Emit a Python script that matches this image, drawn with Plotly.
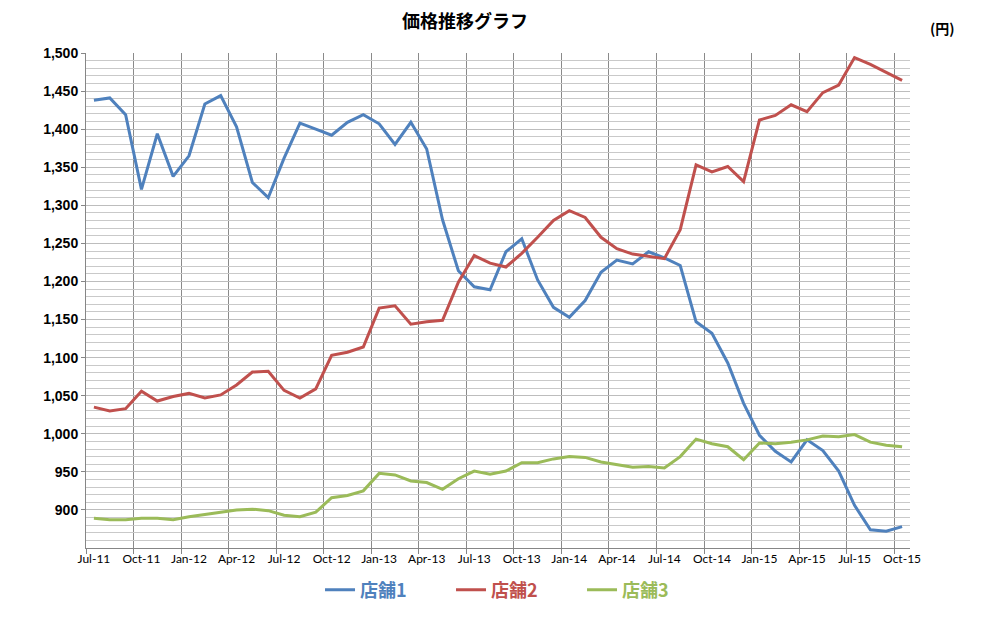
import pandas as pd
import plotly.graph_objects as go

# monthly categories Jul-11 .. Oct-15
months = pd.date_range("2011-07-01", "2015-10-01", freq="MS")
month_labels = [d.strftime("%b-%y") for d in months]

store1 = [1438, 1441, 1419, 1321, 1394, 1338, 1365, 1433, 1444, 1403,
          1330, 1310, 1362, 1408, 1400, 1392, 1409, 1419, 1407, 1380,
          1409, 1374, 1281, 1214, 1193, 1189, 1239, 1256, 1202, 1166,
          1153, 1175, 1212, 1228, 1223, 1239, 1231, 1221, 1147, 1132,
          1093, 1040, 998, 977, 963, 992, 978, 951, 906, 874,
          872, 878]
store2 = [1035, 1030, 1033, 1056, 1043, 1049, 1053, 1047, 1051, 1064,
          1081, 1082, 1057, 1047, 1059, 1103, 1107, 1114, 1165, 1168,
          1144, 1147, 1149, 1199, 1234, 1224, 1219, 1237, 1258, 1280,
          1293, 1284, 1258, 1243, 1236, 1233, 1230, 1268, 1353, 1344,
          1351, 1331, 1412, 1418, 1432, 1423, 1448, 1458, 1494, 1485,
          1475, 1464]
store3 = [889, 887, 887, 889, 889, 887, 891, 894, 897, 900,
          901, 899, 893, 891, 897, 916, 919, 925, 948, 946,
          938, 936, 927, 941, 951, 947, 951, 962, 962, 967,
          970, 969, 963, 959, 956, 957, 955, 970, 993, 987,
          983, 966, 988, 987, 989, 992, 997, 996, 999, 989,
          985, 983]

series_names = ["店舗1", "店舗2", "店舗3"]
colors = ["#4F81BD", "#C0504D", "#9BBB59"]

y_ticks = list(range(900, 1501, 50))
y_min, y_max = 850, 1500

x = list(range(len(months)))
label_idx = list(range(0, len(months), 3))

fig = go.Figure()
for vals, name, col in zip([store1, store2, store3], series_names, colors):
    fig.add_trace(go.Scatter(
        x=x, y=vals, mode="lines",
        name='<span style="color:%s"><b>%s</b></span>' % (col, name),
        line=dict(color=col, width=3),
    ))

axis_grey = "#868686"
num_font = dict(family="Liberation Sans", size=14, color="black", weight="bold")

# page has an 8px body margin, so the figure is a bit smaller than the window
W, H = 978, 617
fig.update_layout(
    width=W, height=H,
    margin=dict(l=78, r=76, t=45, b=77),
    plot_bgcolor="white", paper_bgcolor="white",
    title=dict(text="<b>価格推移グラフ</b>", x=457 / W, xanchor="center",
               y=1 - 14 / H, yanchor="middle",
               font=dict(family="Noto Sans CJK JP", size=18, color="black")),
    xaxis=dict(
        range=[-0.5, len(months) - 0.5],
        tickmode="array", tickvals=label_idx,
        ticktext=[month_labels[i] for i in label_idx],
        ticks="", showgrid=False, zeroline=False,
        showline=True, linecolor=axis_grey,
        tickfont=dict(family="Lato", size=12, color="black"),
        minor=dict(tickvals=[i - 0.5 for i in label_idx], ticks="outside",
                   ticklen=5, tickcolor=axis_grey, showgrid=True,
                   gridcolor="#8a8a8a", gridwidth=1),
    ),
    yaxis=dict(
        range=[y_min, y_max], tickmode="array", tickvals=y_ticks,
        tickformat=",", ticks="outside", ticklen=4, tickcolor=axis_grey,
        showline=True, linecolor=axis_grey, zeroline=False,
        showgrid=True, gridcolor="#bdbdbd", gridwidth=1,
        tickfont=num_font,
        minor=dict(dtick=10, tick0=y_min, showgrid=True, gridcolor="#c9c9c9"),
    ),
    # right side: axis line with its own tick marks
    yaxis2=dict(
        overlaying="y", side="right", anchor="x",
        range=[y_min, y_max], tickmode="array",
        tickvals=[y_min + (y_max - y_min) * k / 8 for k in range(9)],
        showticklabels=False, ticks="outside", ticklen=5, tickcolor=axis_grey,
        showline=True, linecolor=axis_grey, showgrid=False, zeroline=False,
    ),
    # right side labels
    yaxis3=dict(
        overlaying="y", side="right", anchor="x",
        range=[y_min, y_max], tickmode="array", tickvals=y_ticks,
        ticktext=[("{:,}".format(v) if v >= 1000 else "\u2007\u2008" + str(v)) for v in y_ticks],
        ticks="", showline=False, showgrid=False, zeroline=False,
        ticklabelstandoff=8, tickfont=num_font,
    ),
    showlegend=True,
    legend=dict(orientation="h", x=0.284, xanchor="left", y=-0.085,
                yanchor="middle", font=dict(family="Noto Sans CJK JP", size=18),
                itemwidth=30, entrywidth=86, entrywidthmode="pixels"),
    annotations=[dict(text="<b>(円)</b>", x=(934 - 78) / 824, y=(540 - 20) / 495,
                      xref="paper", yref="paper", xanchor="center", yanchor="middle",
                      showarrow=False,
                      font=dict(family="Noto Sans CJK JP", size=14, color="black"))],
)

fig.write_html("out.html")
